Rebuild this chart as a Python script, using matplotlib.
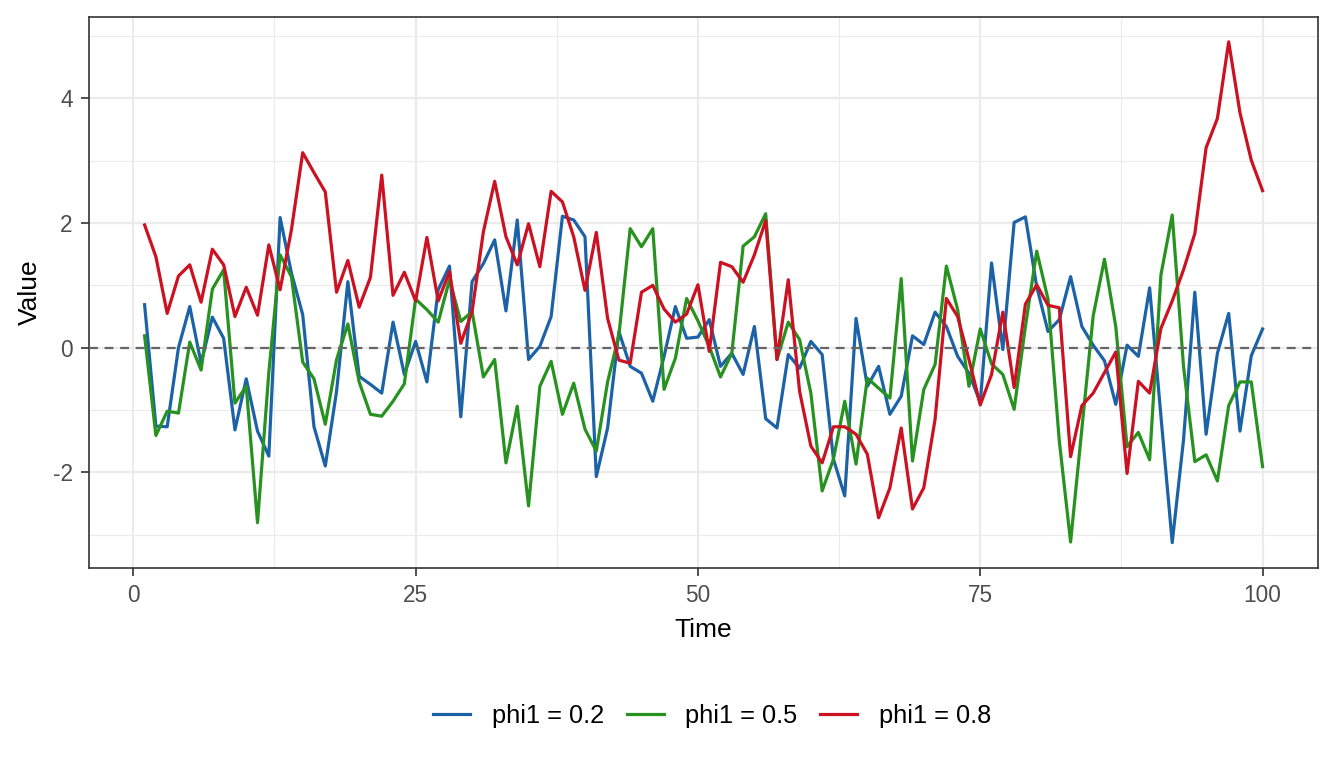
import numpy as np
import matplotlib
matplotlib.use('Agg')
import matplotlib.pyplot as plt

plt.rcParams['font.family'] = ['Liberation Sans', 'DejaVu Sans']
plt.rcParams['axes.unicode_minus'] = False

# Simulated AR(1) series
time = np.arange(1, 101)

phi_02 = [0.69, -1.26, -1.27, 0.00, 0.66, -0.25, 0.49, 0.15, -1.32, -0.50,
          -1.34, -1.74, 2.09, 1.20, 0.53, -1.27, -1.90, -0.70, 1.06, -0.46,
          -0.59, -0.73, 0.41, -0.43, 0.10, -0.55, 0.93, 1.31, -1.11, 1.06,
          1.35, 1.73, 0.59, 2.05, -0.19, 0.02, 0.50, 2.11, 2.05, 1.78,
          -2.07, -1.29, 0.26, -0.30, -0.41, -0.86, -0.14, 0.66, 0.15, 0.17,
          0.45, -0.30, -0.09, -0.43, 0.34, -1.14, -1.29, -0.11, -0.33, 0.10,
          -0.11, -1.79, -2.38, 0.47, -0.62, -0.30, -1.07, -0.78, 0.19, 0.05,
          0.57, 0.34, -0.14, -0.41, -0.88, 1.36, -0.03, 2.01, 2.10, 0.98,
          0.26, 0.45, 1.14, 0.34, 0.04, -0.21, -0.91, 0.04, -0.14, 0.96,
          -1.10, -3.13, -1.48, 0.89, -1.39, -0.09, 0.55, -1.34, -0.13, 0.30]

phi_05 = [0.19, -1.41, -1.02, -1.05, 0.09, -0.36, 0.94, 1.25, -0.89, -0.62,
          -2.81, -0.40, 1.49, 1.14, -0.23, -0.50, -1.23, -0.19, 0.38, -0.55,
          -1.07, -1.10, -0.86, -0.58, 0.78, 0.61, 0.41, 1.09, 0.42, 0.58,
          -0.47, -0.19, -1.85, -0.94, -2.54, -0.62, -0.22, -1.07, -0.57, -1.31,
          -1.66, -0.55, 0.20, 1.91, 1.62, 1.91, -0.67, -0.17, 0.79, 0.43,
          0.02, -0.47, -0.09, 1.63, 1.78, 2.15, -0.19, 0.41, 0.13, -0.73,
          -2.30, -1.79, -0.86, -1.87, -0.49, -0.65, -0.81, 1.11, -1.82, -0.67,
          -0.27, 1.31, 0.61, -0.62, 0.30, -0.26, -0.43, -0.99, 0.34, 1.55,
          0.78, -1.50, -3.12, -1.30, 0.51, 1.42, 0.34, -1.59, -1.36, -1.80,
          1.17, 2.13, -0.30, -1.83, -1.72, -2.14, -0.93, -0.55, -0.55, -1.91]

phi_08 = [1.97, 1.46, 0.55, 1.15, 1.33, 0.73, 1.58, 1.33, 0.50, 0.97,
          0.52, 1.65, 0.93, 1.89, 3.13, 2.81, 2.50, 0.89, 1.40, 0.65,
          1.13, 2.77, 0.84, 1.21, 0.75, 1.77, 0.75, 1.22, 0.07, 0.58,
          1.86, 2.67, 1.78, 1.33, 1.99, 1.30, 2.51, 2.34, 1.78, 0.92,
          1.85, 0.47, -0.20, -0.25, 0.89, 1.00, 0.62, 0.41, 0.54, 1.01,
          -0.06, 1.37, 1.30, 1.05, 1.49, 2.04, -0.19, 1.09, -0.70, -1.58,
          -1.85, -1.27, -1.27, -1.39, -1.71, -2.73, -2.25, -1.29, -2.59, -2.25,
          -1.15, 0.79, 0.50, -0.19, -0.92, -0.43, 0.57, -0.64, 0.70, 1.01,
          0.68, 0.64, -1.75, -0.93, -0.73, -0.40, -0.07, -2.02, -0.54, -0.73,
          0.31, 0.75, 1.25, 1.83, 3.21, 3.68, 4.91, 3.77, 3.01, 2.52]

labels = ['phi1 = 0.2', 'phi1 = 0.5', 'phi1 = 0.8']
colors = ['#1C62A6', '#27921F', '#CC1122']

fig = plt.figure(figsize=(13.44, 7.68), dpi=100)
ax = fig.add_axes([0.066, 0.261, 0.915, 0.717])

ax.set_axisbelow(True)
for s, lab, c in zip([phi_02, phi_05, phi_08], labels, colors):
    ax.plot(time, s, color=c, lw=2.3, label=lab)
ax.axhline(0, color='#666666', lw=1.6, ls=(0, (4, 3)), zorder=3)

ax.set_xlim(-3.95, 104.95)
ax.set_ylim(-3.53, 5.31)
ax.set_xticks([0, 25, 50, 75, 100])
ax.set_xticks([12.5, 37.5, 62.5, 87.5], minor=True)
ax.set_yticks([-2, 0, 2, 4])
ax.set_yticks([-3, -1, 1, 3, 5], minor=True)
ax.grid(which='major', color='#EBEBEB', lw=1.6)
ax.grid(which='minor', color='#EBEBEB', lw=0.8)
ax.tick_params(which='major', length=5.5, width=1.2, color='#333333',
               labelsize=16.3, labelcolor='#4D4D4D')
ax.tick_params(axis='x', pad=6.5)
ax.tick_params(axis='y', pad=6)
ax.tick_params(which='minor', length=0)
for sp in ax.spines.values():
    sp.set_color('#333333')
    sp.set_linewidth(1.2)

ax.set_xlabel('Time', fontsize=19, labelpad=8)
ax.set_ylabel('Value', fontsize=19, labelpad=7.5)

fig.legend(loc='center', bbox_to_anchor=(0.53, 0.068), ncol=3, frameon=False,
           fontsize=18.3, handlelength=1.45, columnspacing=0.9, handletextpad=0.85)

fig.savefig('out.png', dpi=100)
